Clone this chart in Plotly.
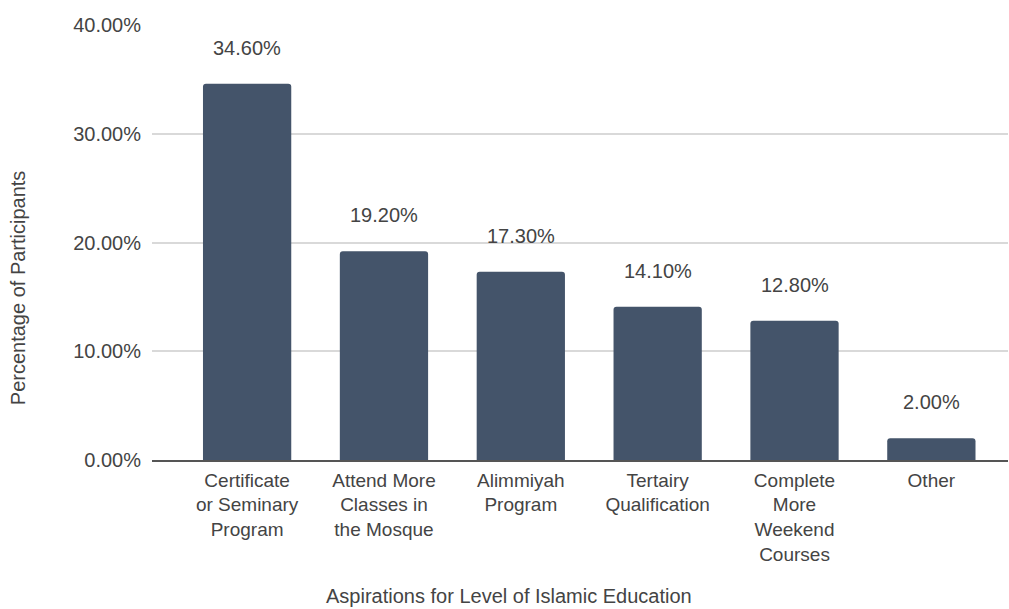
import plotly.graph_objects as go

# Survey results: aspirations for level of Islamic education
categories = [
    "Certificate<br>or Seminary<br>Program",
    "Attend More<br>Classes in<br>the Mosque",
    "Alimmiyah<br>Program",
    "Tertairy<br>Qualification",
    "Complete<br>More<br>Weekend<br>Courses",
    "Other",
]
percentages = [34.6, 19.2, 17.3, 14.1, 12.8, 2.0]
y_ticks = [0, 10, 20, 30, 40]
y_tick_labels = [f"{v:.2f}%" for v in y_ticks]

FONT = "Liberation Sans, Arial, sans-serif"
BAR_COLOR = "#44546a"
TEXT_COLOR = "#444444"

fig = go.Figure()
fig.add_trace(
    go.Bar(
        x=list(range(len(categories))),
        y=percentages,
        width=0.645,
        marker=dict(color=BAR_COLOR, line=dict(width=0), cornerradius=3),
        hoverinfo="skip",
    )
)

# Value labels floating above each bar
for i, v in enumerate(percentages):
    fig.add_annotation(
        x=i, y=v, text=f"{v:.2f}%", showarrow=False,
        yanchor="middle", yshift=36,
        font=dict(family=FONT, size=20, color=TEXT_COLOR),
    )

# Axis titles
fig.add_annotation(
    xref="paper", yref="paper", x=-0.1565, y=0.395,
    text="Percentage of Participants", textangle=-90, showarrow=False,
    xanchor="center", yanchor="middle",
    font=dict(family=FONT, size=20, color=TEXT_COLOR),
)
fig.add_annotation(
    xref="paper", yref="paper", x=0.417, y=-0.312,
    text="Aspirations for Level of Islamic Education", showarrow=False,
    xanchor="center", yanchor="middle",
    font=dict(family=FONT, size=20, color=TEXT_COLOR),
)

fig.update_layout(
    width=1009, height=609,
    margin=dict(l=152, r=1, t=25, b=149),
    paper_bgcolor="white", plot_bgcolor="white",
    showlegend=False,
    font=dict(family=FONT, size=20, color=TEXT_COLOR),
    xaxis=dict(
        tickmode="array",
        tickvals=list(range(len(categories))),
        ticktext=categories,
        range=[-0.695, 5.56],
        showgrid=False, zeroline=False,
        showline=True, linecolor="#555555", linewidth=1.5,
        ticks="", ticklabelstandoff=2,
        tickfont=dict(family=FONT, size=19, color=TEXT_COLOR),
    ),
    yaxis=dict(
        range=[0, 40],
        tickmode="array", tickvals=y_ticks, ticktext=y_tick_labels,
        showgrid=True, gridcolor="#d9d9d9", gridwidth=1.5,
        zeroline=False, showline=False, ticks="",
        ticklabelstandoff=10,
        tickfont=dict(family=FONT, size=20, color=TEXT_COLOR),
    ),
)

fig.write_html("out.html")
